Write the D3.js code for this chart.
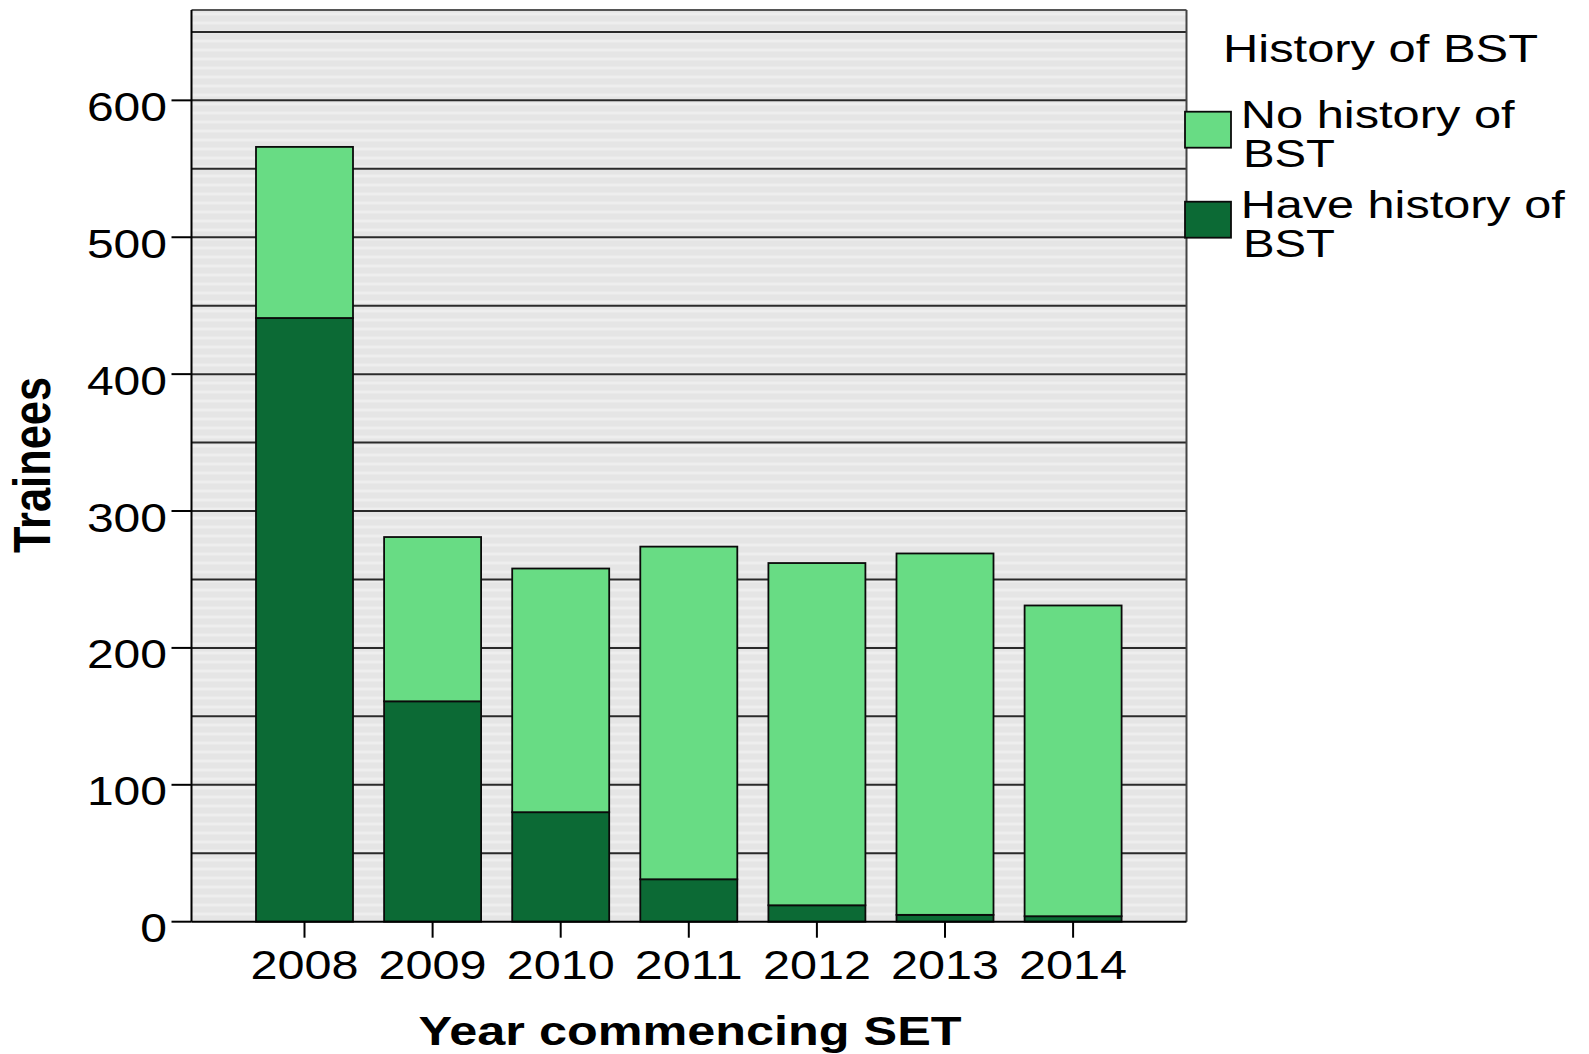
<!DOCTYPE html>
<html>
<head>
<meta charset="utf-8">
<script src="https://cdn.jsdelivr.net/npm/d3@7"></script>
<style>
  html, body { margin: 0; padding: 0; background: #ffffff; }
  svg { display: block; }
  text { font-family: "Liberation Sans", Arial, sans-serif; fill: #000; }
</style>
</head>
<body>
<svg id="chart" width="1589" height="1054"></svg>
<script>
// ---- data ----
const years = ["2008", "2009", "2010", "2011", "2012", "2013", "2014"];
const haveHistory = [441, 161, 80, 31, 12, 5, 4];
const noHistory = [125, 120, 178, 243, 250, 264, 227];
const yTickValues = [0, 100, 200, 300, 400, 500, 600];
const gridValues = [50, 100, 150, 200, 250, 300, 350, 400, 450, 500, 550, 600, 650];
const seriesNames = ["No history of BST", "Have history of BST"];
const legendTitle = "History of BST";
const xTitle = "Year commencing SET";
const yTitle = "Trainees";

// ---- layout ----
const plot = { left: 191.5, right: 1186.5, top: 10, bottom: 921.7 };
const colLight = "#68dc84";
const colDark = "#0c6a35";
const stretch = 1.2; // horizontal stretch of text in the reference

const svg = d3.select("#chart");

const y = d3.scaleLinear().domain([0, 666]).range([plot.bottom, plot.top]);
const step = 128.1;
const x = d3.scaleBand().domain(years)
  .range([304.5 - step / 2, 304.5 - step / 2 + step * years.length])
  .paddingInner(0.2428).paddingOuter(0.1214);

// plot background
svg.append("rect")
  .attr("x", plot.left).attr("y", plot.top)
  .attr("width", plot.right - plot.left).attr("height", plot.bottom - plot.top)
  .attr("fill", "#e5e5e5");

// faint horizontal streaks for texture
const streaks = d3.range(plot.top + 4, plot.bottom, 9);
svg.append("g").selectAll("line").data(streaks).join("line")
  .attr("x1", plot.left).attr("x2", plot.right)
  .attr("y1", d => d).attr("y2", d => d)
  .attr("stroke", "#eeeeee").attr("stroke-width", 3);

// gridlines
svg.append("g").selectAll("line").data(gridValues).join("line")
  .attr("x1", plot.left).attr("x2", plot.right)
  .attr("y1", d => y(d)).attr("y2", d => y(d))
  .attr("stroke", "#2a2a2a").attr("stroke-width", 2);

// frame (top, right)
svg.append("line").attr("x1", plot.left).attr("x2", plot.right)
  .attr("y1", plot.top).attr("y2", plot.top)
  .attr("stroke", "#555").attr("stroke-width", 2);
svg.append("line").attr("x1", plot.right).attr("x2", plot.right)
  .attr("y1", plot.top).attr("y2", plot.bottom)
  .attr("stroke", "#444").attr("stroke-width", 2);

// stacked bars
const stackData = years.map((yr, i) => ({ year: yr, have: haveHistory[i], no: noHistory[i] }));
const stack = d3.stack().keys(["have", "no"]);
const series = stack(stackData);
const colors = { have: colDark, no: colLight };

svg.append("g").selectAll("g").data(series).join("g")
  .attr("fill", d => colors[d.key])
  .selectAll("rect").data(d => d).join("rect")
  .attr("x", d => x(d.data.year))
  .attr("width", x.bandwidth())
  .attr("y", d => y(d[1]))
  .attr("height", d => y(d[0]) - y(d[1]))
  .attr("stroke", "#0a0a0a").attr("stroke-width", 1.8);

// axes lines
svg.append("line").attr("x1", plot.left).attr("x2", plot.left)
  .attr("y1", plot.top).attr("y2", plot.bottom)
  .attr("stroke", "#000").attr("stroke-width", 2);
svg.append("line").attr("x1", plot.left).attr("x2", plot.right)
  .attr("y1", plot.bottom).attr("y2", plot.bottom)
  .attr("stroke", "#000").attr("stroke-width", 2);

// y ticks
const yAxisG = svg.append("g");
yAxisG.selectAll("line").data(yTickValues).join("line")
  .attr("x1", plot.left - 20).attr("x2", plot.left)
  .attr("y1", d => y(d)).attr("y2", d => y(d))
  .attr("stroke", "#000").attr("stroke-width", 2);
yAxisG.selectAll("text").data(yTickValues).join("text")
  .attr("x", 167).attr("y", d => y(d) + 20.5)
  .attr("text-anchor", "end")
  .attr("font-size", 40)
  .attr("textLength", d => String(d).length * 26.7)
  .attr("lengthAdjust", "spacingAndGlyphs")
  .text(d => d);

// x ticks
const xAxisG = svg.append("g");
xAxisG.selectAll("line").data(years).join("line")
  .attr("x1", d => x(d) + x.bandwidth() / 2).attr("x2", d => x(d) + x.bandwidth() / 2)
  .attr("y1", plot.bottom).attr("y2", plot.bottom + 16)
  .attr("stroke", "#000").attr("stroke-width", 2);
xAxisG.selectAll("text").data(years).join("text")
  .attr("x", d => x(d) + x.bandwidth() / 2).attr("y", 979.3)
  .attr("text-anchor", "middle")
  .attr("font-size", 40)
  .attr("textLength", 108)
  .attr("lengthAdjust", "spacingAndGlyphs")
  .text(d => d);

// axis titles
svg.append("text")
  .attr("x", 690).attr("y", 1045)
  .attr("text-anchor", "middle")
  .attr("font-size", 41).attr("font-weight", "bold")
  .attr("textLength", 543).attr("lengthAdjust", "spacingAndGlyphs")
  .text(xTitle);

svg.append("text")
  .attr("transform", `translate(50,465) scale(${stretch},1) rotate(-90)`)
  .attr("text-anchor", "middle")
  .attr("font-size", 43).attr("font-weight", "bold")
  .attr("textLength", 176).attr("lengthAdjust", "spacingAndGlyphs")
  .text(yTitle);

// legend
const lg = svg.append("g");
lg.append("text")
  .attr("x", 1223).attr("y", 61.7)
  .attr("font-size", 39.5)
  .attr("textLength", 315).attr("lengthAdjust", "spacingAndGlyphs")
  .text(legendTitle);

const legendItems = [
  { color: colLight, top: 111.7, lines: ["No history of", "BST"], widths: [274, 92] },
  { color: colDark, top: 201.7, lines: ["Have history of", "BST"], widths: [324, 92] }
];
legendItems.forEach((it, i) => {
  lg.append("rect")
    .attr("x", 1185).attr("y", it.top)
    .attr("width", 46).attr("height", 36)
    .attr("fill", it.color).attr("stroke", "#0a0a0a").attr("stroke-width", 1.8);
  it.lines.forEach((ln, j) => {
    lg.append("text")
      .attr("x", j === 0 ? 1240.7 : 1243).attr("y", it.top + 16.6 + j * 38.4)
      .attr("font-size", 38)
      .attr("textLength", it.widths[j]).attr("lengthAdjust", "spacingAndGlyphs")
      .text(ln);
  });
});
</script>
</body>
</html>
